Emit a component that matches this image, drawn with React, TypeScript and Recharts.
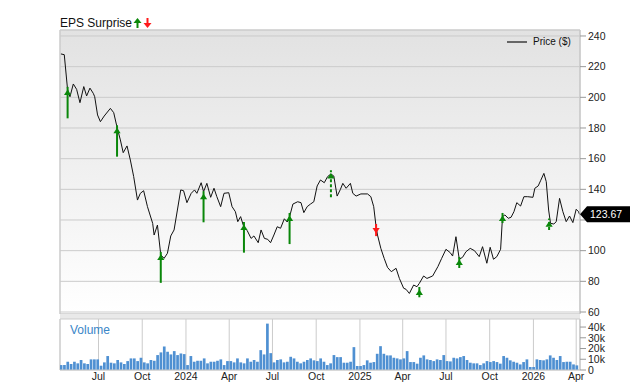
import React from 'react';
import {
  ComposedChart,
  BarChart,
  Bar,
  Line,
  XAxis,
  YAxis,
  CartesianGrid,
  ReferenceLine,
  ReferenceDot,
  ReferenceArea,
} from 'recharts';

// ---------- data ----------
const priceDates = [
  '2023-04-13','2023-04-20','2023-04-27','2023-05-02','2023-05-09','2023-05-16','2023-05-23','2023-05-31',
  '2023-06-06','2023-06-13','2023-06-20','2023-06-23','2023-06-29','2023-07-05','2023-07-13','2023-07-26',
  '2023-08-02','2023-08-09','2023-08-16','2023-08-22','2023-08-30','2023-09-06','2023-09-13','2023-09-21',
  '2023-09-27','2023-10-04','2023-10-12','2023-10-23','2023-10-26','2023-11-02','2023-11-09','2023-11-16',
  '2023-11-23','2023-11-30','2023-12-07','2023-12-14','2023-12-21','2023-12-27','2024-01-03','2024-01-12',
  '2024-01-19','2024-01-24','2024-02-02','2024-02-07','2024-02-14','2024-02-22','2024-02-29','2024-03-06',
  '2024-03-14','2024-03-21','2024-03-31','2024-04-07','2024-04-14','2024-04-19','2024-04-25','2024-05-02',
  '2024-05-09','2024-05-17','2024-05-23','2024-06-01','2024-06-07','2024-06-14','2024-06-21','2024-06-27',
  '2024-07-04','2024-07-11','2024-07-18','2024-07-26','2024-08-01','2024-08-06','2024-08-13','2024-08-23',
  '2024-08-30','2024-09-05','2024-09-12','2024-09-19','2024-09-26','2024-10-03','2024-10-10','2024-10-18',
  '2024-10-25','2024-11-01','2024-11-07','2024-11-14','2024-11-21','2024-11-26','2024-12-03','2024-12-12',
  '2024-12-17','2024-12-24','2025-01-03','2025-01-17','2025-01-24','2025-01-30','2025-02-04','2025-02-07',
  '2025-02-14','2025-02-21','2025-02-28','2025-03-08','2025-03-18','2025-03-25','2025-04-03','2025-04-08',
  '2025-04-15','2025-04-24','2025-05-01','2025-05-06','2025-05-15','2025-05-22','2025-06-03','2025-06-14',
  '2025-06-22','2025-07-01','2025-07-10','2025-07-15','2025-07-22','2025-07-29','2025-08-05','2025-08-12',
  '2025-08-21','2025-08-30','2025-09-09','2025-09-16','2025-09-25','2025-10-02','2025-10-09','2025-10-16',
  '2025-10-24','2025-10-28','2025-11-02','2025-11-09','2025-11-15','2025-11-21','2025-11-27','2025-12-05',
  '2025-12-12','2025-12-20','2025-12-31','2026-01-04','2026-01-11','2026-01-16','2026-01-23','2026-01-28',
  '2026-02-02','2026-02-06','2026-02-13','2026-02-18','2026-02-25','2026-03-04','2026-03-11','2026-03-18',
  '2026-03-25','2026-04-01','2026-04-06','2026-04-08',
];
const priceValues = [
  228.3, 227.8, 204.8, 200.4, 208.7, 205.2, 196.5, 207.0,
  200.9, 206.0, 202.6, 200.4, 188.5, 184.1, 187.8, 192.8,
  190.0, 180.5, 172.2, 163.9, 168.3, 159.1, 148.3, 133.0,
  137.4, 139.1, 128.7, 117.8, 110.2, 116.7, 97.2, 95.0,
  98.3, 109.6, 113.5, 126.5, 139.6, 139.1, 131.3, 137.4,
  139.6, 137.4, 144.3, 138.5, 143.9, 134.8, 140.7, 135.2,
  128.7, 137.4, 137.8, 128.7, 125.4, 118.9, 122.2, 115.2,
  113.0, 108.0, 109.6, 105.2, 113.5, 108.0, 107.4, 105.2,
  110.2, 115.6, 114.6, 120.8, 118.7, 122.2, 130.4, 131.9,
  131.3, 124.8, 128.7, 130.4, 131.9, 142.2, 146.1, 144.3,
  148.3, 150.0, 148.7, 135.6, 140.0, 143.9, 140.7, 143.9,
  137.4, 135.6, 137.0, 137.0, 135.2, 128.7, 115.6, 110.2,
  101.5, 95.0, 89.1, 86.3, 88.5, 81.9, 75.5, 74.8,
  72.1, 77.6, 76.5, 78.7, 83.5, 81.9, 83.5, 89.6,
  95.0, 100.9, 98.7, 96.5, 109.1, 94.4, 95.7, 99.3,
  101.5, 100.0, 96.1, 102.6, 91.8, 102.2, 94.4, 96.1,
  100.9, 122.2, 123.3, 121.1, 121.8, 125.4, 131.3, 129.1,
  135.2, 135.2, 134.8, 140.7, 142.2, 145.6, 150.4, 145.0,
  126.5, 117.8, 117.4, 118.9, 134.1, 125.4, 118.9, 122.6,
  118.3, 127.0, 125.4, 123.67,
];

const epsDates = ['2023-04-27','2023-08-09','2023-11-09','2024-02-07','2024-05-02','2024-08-06','2024-11-01','2025-02-04','2025-05-06','2025-07-29','2025-10-28','2026-02-03'];
const epsTips = [204.8, 179.8, 97.2, 136.8, 116.7, 122.6, 150.4, 111.5, 74.3, 93.9, 122.6, 118.9];
const epsBases = [186.3, 161.3, 79.0, 118.5, 98.7, 104.3, 134.8, 117.4, 69.6, 88.7, 118.0, 113.5];
const epsBeat = [true, true, true, true, true, true, true, false, true, true, true, true];
const epsDashed = [false, false, false, false, false, false, true, false, false, false, false, true];

const volumeStart = '2023-04-14';
const volumeK = [
  4.6, 4.6, 7.7, 5.6, 7.7, 6.2, 9.3, 6.2, 5.6, 9.9,
  9.9, 9.9, 4.0, 7.1, 13, 6.8, 6.2, 9.3, 7.1, 5.6,
  8.3, 10.8, 10.8, 8.3, 11.4, 7.1, 6.2, 9.3, 8.6, 13.9,
  16.4, 21.9, 17, 14.5, 17.6, 13.9, 15.4, 14.8, 4.6, 13,
  7.7, 8.6, 8.6, 10.8, 6.2, 7.7, 7.7, 8.6, 9.9, 4.6,
  8.3, 8.3, 7.1, 10.8, 7.1, 6.2, 10.8, 7.7, 9.3, 7.7,
  18.5, 14.5, 43.2, 15.7, 7.1, 9.3, 9.9, 7.1, 7.7, 12.3,
  10.8, 7.7, 6.2, 7.7, 9.3, 10.8, 9.0,
  8.3, 10.8, 7.7, 4.6, 6.2, 13.9, 12, 12, 6.8, 6.8,
  7.7, 21.3, 3.7, 3.7, 4.6, 9, 6.8, 7.4, 15.1, 22.2,
  15.1, 13.6, 13.6, 11.4, 10.8, 9.9, 10.8, 17.6, 7.4, 7.4,
  5.9, 11.4, 13.6, 9.9, 9.3, 8.3, 9.9, 9.3, 13.9, 8.3,
  8.0, 11.4, 10.8, 12, 13, 9.3, 6.8, 6.2, 6.2, 4.6,
  6.2, 8.3, 7.4, 8.3, 7.4, 5.9, 13, 11.4, 9, 7.7,
  6.8, 5.2, 7.4, 9.9, 2.8, 2.8, 9.9, 9.3, 9, 9.9,
  13.6, 11.4, 9.3, 13, 7.4, 7.7, 7.7, 5.2, 4.3,
];

const tickDates = ['2023-07-01','2023-10-01','2024-01-01','2024-04-01','2024-07-01','2024-10-01','2025-01-01','2025-04-01','2025-07-01','2025-10-01','2026-01-01','2026-04-01'];
const tickLabels = ['Jul','Oct','2024','Apr','Jul','Oct','2025','Apr','Jul','Oct','2026','Apr'];
const priceTicks = [60, 80, 100, 120, 140, 160, 180, 200, 220, 240];
const volumeTicks = [0, 10, 20, 30, 40];
const lastPrice = 123.67;
const domainStartDate = '2023-04-11';
const domainEndDate = '2026-04-09';
const priceDomain: [number, number] = [58.7, 243.9];
const volumeDomain: [number, number] = [0, 47.5];

// ---------- helpers ----------
const DAY = 86400000;
const toT = (s: string) => Date.parse(s + 'T00:00:00Z');
const xDomain: [number, number] = [toT(domainStartDate), toT(domainEndDate)];
const tickT = tickDates.map(toT);
const fmtTick = (v: number) => {
  const i = tickT.indexOf(v);
  return i >= 0 ? tickLabels[i] : '';
};

const priceData = priceDates.map((d, i) => ({ t: toT(d), p: priceValues[i] }));
const volumeData = volumeK.map((v, i) => ({ t: toT(volumeStart) + i * 7 * DAY, v }));
const events = epsDates.map((d, i) => ({
  t: toT(d),
  tip: epsTips[i],
  base: epsBases[i],
  beat: epsBeat[i],
  dashed: epsDashed[i],
}));

const FONT = '"Liberation Sans", Arial, Helvetica, sans-serif';
const GREEN = '#0a870a';
const RED = '#ff1a1a';
const GRID = '#cbcbcb';

const ArrowHead = (up: boolean, color: string) => (props: any) => {
  const { cx, cy } = props;
  if (cx == null || cy == null) return <g />;
  const pts = up
    ? `${cx},${cy - 0.5} ${cx - 3.6},${cy + 5} ${cx + 3.6},${cy + 5}`
    : `${cx},${cy + 0.5} ${cx - 3.6},${cy - 5} ${cx + 3.6},${cy - 5}`;
  return <polygon points={pts} fill={color} />;
};

const PriceTag = (props: any) => {
  const { cx, cy } = props;
  if (cx == null || cy == null) return <g />;
  const x = cx;
  const pts = `${x},${cy} ${x + 7},${cy - 8} ${x + 50},${cy - 8} ${x + 50},${cy + 8} ${x + 7},${cy + 8}`;
  return (
    <g>
      <polygon points={pts} fill="#000" />
      <text x={x + 10} y={cy + 4} fill="#fff" fontSize={10.5} fontFamily={FONT}>
        {lastPrice.toFixed(2)}
      </text>
    </g>
  );
};

const tickStyle = { fontSize: 10.5, fill: '#222', fontFamily: FONT };

// price-axis tick: the label under the last-price tag is covered, as in the source chart
const PriceTick = (props: any) => {
  const { x, y, payload } = props;
  const v = payload?.value;
  if (v == null || Math.abs(v - lastPrice) < 5.5) return <g />;
  return (
    <text x={x} y={y} dy="0.355em" textAnchor="start" fontSize={10.5} fill="#222" fontFamily={FONT}>
      {v}
    </text>
  );
};

export default function App() {
  return (
    <div style={{ position: 'absolute', left: 0, top: 0, width: 640, height: 382, background: '#fff', fontFamily: FONT }}>
      {/* title */}
      <div style={{ position: 'absolute', left: 60, top: 17, fontSize: 12, lineHeight: '12px', color: '#111', whiteSpace: 'nowrap', display: 'flex', alignItems: 'flex-start' }}>
        <span>EPS Surprise</span>
        <svg width={20} height={12} style={{ marginLeft: 1 }}>
          <polygon points="4.5,1 0.5,6 8.5,6" fill={GREEN} />
          <rect x={3.5} y={5} width={2} height={6} fill={GREEN} />
          <polygon points="14.5,11 10.5,6 18.5,6" fill={RED} />
          <rect x={13.5} y={1} width={2} height={6} fill={RED} />
        </svg>
      </div>

      {/* price pane */}
      <div style={{ position: 'absolute', left: 0, top: 0 }}>
        <ComposedChart width={640} height={318} data={priceData} margin={{ top: 30, right: 0, bottom: 4, left: 60 }}>
          <defs>
            <linearGradient id="priceBg" x1="0" y1="0" x2="0" y2="1">
              <stop offset="0%" stopColor="#e2e2e2" />
              <stop offset="100%" stopColor="#ffffff" />
            </linearGradient>
          </defs>
          <CartesianGrid stroke={GRID} fill="url(#priceBg)" fillOpacity={1} />
          <XAxis
            dataKey="t"
            type="number"
            scale="time"
            domain={xDomain}
            ticks={tickT}
            height={0}
            tick={false}
            axisLine={false}
            tickLine={false}
            allowDataOverflow
          />
          <YAxis
            orientation="right"
            width={60}
            domain={priceDomain}
            ticks={priceTicks}
            interval={0}
            tickSize={6}
            tickMargin={2}
            axisLine={{ stroke: GRID }}
            tickLine={{ stroke: '#999' }}
            tick={<PriceTick />}
            allowDataOverflow
          />
          <ReferenceArea
            x1={xDomain[0]}
            x2={xDomain[1]}
            y1={priceDomain[0]}
            y2={priceDomain[1]}
            fill="none"
            stroke={GRID}
            ifOverflow="visible"
          />
          <Line
            dataKey="p"
            type="linear"
            stroke="#111"
            strokeWidth={1}
            dot={false}
            activeDot={false}
            isAnimationActive={false}
          />
          {events.map((e, i) => (
            <ReferenceLine
              key={'s' + i}
              segment={[{ x: e.t, y: e.base }, { x: e.t, y: e.beat ? e.tip + 2 : e.tip - 2 }]}
              stroke={e.beat ? GREEN : RED}
              strokeWidth={2}
              strokeDasharray={e.dashed ? '3 2' : undefined}
              ifOverflow="visible"
            />
          ))}
          {events.map((e, i) => (
            <ReferenceDot
              key={'h' + i}
              x={e.t}
              y={e.tip}
              r={3}
              ifOverflow="visible"
              shape={ArrowHead(e.beat, e.beat ? GREEN : RED)}
            />
          ))}
          <ReferenceDot x={xDomain[1]} y={lastPrice} r={1} ifOverflow="visible" shape={PriceTag} />
        </ComposedChart>
      </div>

      {/* legend */}
      <div style={{ position: 'absolute', left: 507, top: 37, display: 'flex', alignItems: 'center', fontSize: 10, lineHeight: '10px', color: '#111', whiteSpace: 'nowrap' }}>
        <span style={{ display: 'inline-block', width: 20, height: 2, background: '#666', marginRight: 6 }} />
        <span>Price ($)</span>
      </div>

      {/* separator */}
      <div style={{ position: 'absolute', left: 60, top: 314, width: 520, height: 5, background: '#e9e9e9' }} />

      {/* volume pane */}
      <div style={{ position: 'absolute', left: 0, top: 318 }}>
        <BarChart width={640} height={64} data={volumeData} margin={{ top: 1, right: 0, bottom: 0, left: 60 }} barCategoryGap={0}>
          <CartesianGrid stroke={GRID} horizontal={false} fill="#ffffff" fillOpacity={1} />
          <XAxis
            dataKey="t"
            type="number"
            scale="time"
            domain={xDomain}
            ticks={tickT}
            interval={0}
            tickFormatter={fmtTick}
            height={12}
            tickSize={0}
            tickMargin={3}
            tickLine={false}
            axisLine={{ stroke: GRID }}
            tick={tickStyle}
            allowDataOverflow
          />
          <YAxis
            orientation="right"
            width={60}
            domain={volumeDomain}
            ticks={volumeTicks}
            interval={0}
            tickSize={6}
            tickMargin={2}
            axisLine={{ stroke: GRID }}
            tickLine={{ stroke: '#999' }}
            tick={tickStyle}
            tickFormatter={(v: number) => (v === 0 ? '0' : `${v}k`)}
            allowDataOverflow
          />
          <ReferenceArea
            x1={xDomain[0]}
            x2={xDomain[1]}
            y1={volumeDomain[0]}
            y2={volumeDomain[1]}
            fill="none"
            stroke={GRID}
            ifOverflow="visible"
          />
          <Bar dataKey="v" fill="#4f90d2" barSize={2.7} isAnimationActive={false} />
        </BarChart>
      </div>

      {/* volume label */}
      <div style={{ position: 'absolute', left: 70, top: 324, fontSize: 12, lineHeight: '12px', color: '#3a86c8' }}>Volume</div>
    </div>
  );
}
